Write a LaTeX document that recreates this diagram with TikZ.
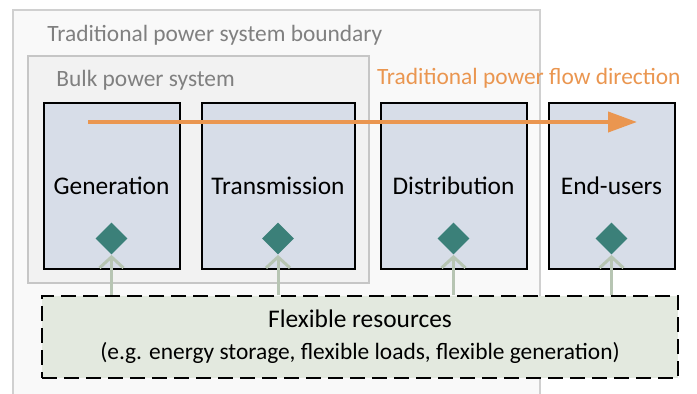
\documentclass[tikz,border=0pt]{standalone}
\usepackage{fontspec}
\setmainfont{Carlito}
\usetikzlibrary{positioning,shapes,arrows.meta}
\definecolor{boxblue}{HTML}{D7DDE8}
\definecolor{flexteal}{HTML}{3B8079}
\definecolor{flexgreen}{HTML}{B7C5B3}
\definecolor{flexfill}{HTML}{E3E9DF}
\definecolor{floworange}{HTML}{EA9650}
\definecolor{outerfill}{HTML}{F9F9F9}
\definecolor{outerline}{HTML}{D0D0D0}
\definecolor{bulkfill}{HTML}{F2F2F2}
\definecolor{bulkline}{HTML}{C6C6C6}
\definecolor{textgray}{HTML}{808080}
\tikzstyle{block}=[
	rectangle,
	draw=black,
	line width=1pt,
	fill=boxblue,
	text centered,
	inner sep=0pt,
	minimum height=83pt,
	font=\fontsize{12.7}{15}\selectfont
	]
\tikzstyle{flexpoint}=[diamond, fill=flexteal, inner sep=0pt, minimum size=16pt]
\tikzstyle{flexarrow}=[-{Straight Barb[length=5.5pt,width=12pt]}, line width=1.5pt, draw=flexgreen]
\tikzstyle{flexbox}=[
	rectangle,
	draw=black,
	line width=1pt,
	dash pattern=on 7.5pt off 3.5pt,
	fill=flexfill,
	align=center,
	inner sep=0pt,
	font=\fontsize{12.7}{16}\selectfont
	]
\tikzstyle{grouptext}=[inner sep=0pt, anchor=west, text=textgray, font=\fontsize{11.7}{14}\selectfont]
\tikzstyle{flowarrow}=[-{Triangle[length=14.5pt,width=10pt]}, line width=2pt, draw=floworange]

\begin{document}
\begin{tikzpicture}[x=0.5pt, y=0.5pt]

		\clip (0,0) rectangle (697,393);

		\draw[draw=outerline, fill=outerfill, line width=0.75pt] (13,-20) rectangle (540,383);
		\node (BoundaryText) [grouptext] at (47,358) {Traditional power system boundary};

		\draw[draw=bulkline, fill=bulkfill, line width=0.75pt] (28,110) rectangle (369,337);
		\node (BulkText) [grouptext] at (56,313) {Bulk power system};

		\node (Generation) [block, minimum width=68pt] at (111.5,207.5) {Generation};
		\node (Transmission) [block, minimum width=76.5pt, right=10pt of Generation] {Transmission};
		\node (Distribution) [block, minimum width=73pt, right=12pt of Transmission] {Distribution};
		\node (EndUsers) [block, minimum width=63pt, right=10pt of Distribution] {End-users};

		\coordinate (FlowStart) at (88,271);
		\coordinate (FlowEnd) at (637,271);
		\draw[flowarrow] (FlowStart) -- (FlowEnd);
		\node (FlowText) [grouptext, text=floworange, anchor=east] at (681,315) {Traditional power flow direction};

		\node (Flexible) [flexbox, minimum width=318pt, minimum height=41pt] at (360,56) {
			Flexible resources \\
			{\fontsize{11.7}{16}\selectfont (e.g. energy storage, flexible loads, flexible generation)}
		};

		\foreach \blk/\point in {Generation/GenPoint, Transmission/TransPoint, Distribution/DistPoint, EndUsers/UserPoint} {
			\node (\point) [flexpoint] at ([yshift=15.5pt]\blk.south) {};
			\draw[flexarrow] (Flexible.north -| \point) -- (\point.south);
		}

	\end{tikzpicture}
\end{document}
